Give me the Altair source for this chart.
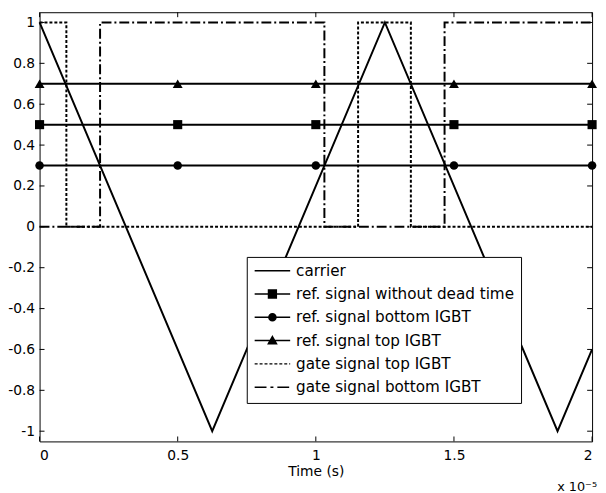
import altair as alt
import pandas as pd

FONT = "DejaVu Sans"

SERIES = [
    "carrier",
    "ref. signal without dead time",
    "ref. signal bottom IGBT",
    "ref. signal top IGBT",
    "gate signal top IGBT",
    "gate signal bottom IGBT",
]

CARRIER_X = [0, 0.625, 1.25, 1.875, 2]
CARRIER_Y = [1, -1, 1, -1, -0.6]

REF_X = [0, 2]
REF_NODEAD = 0.5
REF_BOTTOM = 0.3
REF_TOP = 0.7

MARKER_X = [0, 0.5, 1, 1.5, 2]

GATE_TOP_X = [0, 0.097, 0.097, 1.153, 1.153, 1.344, 1.344, 2]
GATE_TOP_Y = [1, 1, 0, 0, 1, 1, 0, 0]
GATE_BOT_X = [0, 0.219, 0.219, 1.031, 1.031, 1.466, 1.466, 2]
GATE_BOT_Y = [0, 0, 1, 1, 0, 0, 1, 1]

X_TICKS = [0, 0.5, 1, 1.5, 2]
Y_TICKS = [-1, -0.8, -0.6, -0.4, -0.2, 0, 0.2, 0.4, 0.6, 0.8, 1]

DOTTED = [3, 2]
DASHDOT = [10, 3, 2, 3]


# ---- legend symbol paths (unit box [-1,1], 36 px long) ----
def dash_path(pattern_px, length_px=36.0):
    s = 2.0 / length_px
    out, pos, k, on = [], 0.0, 0, True
    while pos < length_px - 1e-9:
        seg = pattern_px[k % len(pattern_px)]
        end = min(pos + seg, length_px)
        if on:
            out.append("M%.3f,0H%.3f" % (-1 + pos * s, -1 + end * s))
        pos, k, on = end, k + 1, not on
    return "".join(out)

LINE = "M-1,0H1"
LEGEND_PATHS = [
    LINE,
    LINE + "M-0.22,-0.22H0.22V0.22H-0.22Z",
    LINE + "M0.2,0A0.2,0.2,0,1,1,-0.2,0A0.2,0.2,0,1,1,0.2,0Z",
    LINE + "M0,-0.23L0.23,0.18H-0.23Z",
    dash_path([3, 2]),
    dash_path([12, 4, 3, 4]),
]

# ---- build tables ----
rows = []
def add(name, xs, ys):
    for i, (a, b) in enumerate(zip(xs, ys)):
        rows.append({"series": name, "x": a, "y": b, "i": i})

add(SERIES[0], CARRIER_X, CARRIER_Y)
add(SERIES[1], REF_X, [REF_NODEAD] * len(REF_X))
add(SERIES[2], REF_X, [REF_BOTTOM] * len(REF_X))
add(SERIES[3], REF_X, [REF_TOP] * len(REF_X))
add(SERIES[4], GATE_TOP_X, GATE_TOP_Y)
add(SERIES[5], GATE_BOT_X, GATE_BOT_Y)
lines_df = pd.DataFrame(rows)

pts = []
for name, lvl in [(SERIES[1], REF_NODEAD), (SERIES[2], REF_BOTTOM), (SERIES[3], REF_TOP)]:
    for a in MARKER_X:
        pts.append({"series": name, "x": a, "y": lvl})
pts_df = pd.DataFrame(pts)

xscale = alt.Scale(domain=[0, 2], nice=False, zero=False)
yscale = alt.Scale(domain=[-1.05, 1.05], nice=False, zero=False)

W, H = 560, 435
TL = 5  # tick length (inward)

axis_style = dict(
    domain=False, grid=False, ticks=False, labelColor="black", labelFont=FONT,
    labelFontSize=14, titleColor="black", titleFont=FONT, titleFontSize=14,
    titleFontWeight="normal",
)
x_main = alt.Axis(orient="bottom", values=X_TICKS, labelExpr="'' + datum.value",
                  labelPadding=7, title="Time (s)", titlePadding=3, **axis_style)
y_main = alt.Axis(orient="left", values=Y_TICKS,
                  labelExpr="'' + round(datum.value*10)/10",
                  labelPadding=5, title=None, **axis_style)

legend_props = dict(
    orient="none", legendX=210, legendY=248, title=None,
    symbolSize=1296, clipHeight=14, rowPadding=7.6,
    labelFont=FONT, labelFontSize=15.4, labelColor="black", labelOffset=5, labelLimit=0,
    padding=7, strokeColor="black", fillColor="white", cornerRadius=0,
    symbolStrokeWidth=1.5, symbolOpacity=1, direction="vertical",
)

solid_lines = alt.Chart(lines_df).transform_filter(
    alt.FieldOneOfPredicate(field="series", oneOf=SERIES[:4])
).mark_line(color="black", strokeWidth=2, strokeCap="butt").encode(
    x=alt.X("x:Q", scale=xscale, axis=x_main),
    y=alt.Y("y:Q", scale=yscale, axis=y_main),
    detail="series:N",
    order="i:Q",
)
gate_top = alt.Chart(lines_df).transform_filter(alt.datum.series == SERIES[4]).mark_line(
    color="black", strokeWidth=2, strokeCap="butt", strokeDash=DOTTED
).encode(x=alt.X("x:Q", scale=xscale), y=alt.Y("y:Q", scale=yscale), order="i:Q")
gate_bot = alt.Chart(lines_df).transform_filter(alt.datum.series == SERIES[5]).mark_line(
    color="black", strokeWidth=2, strokeCap="butt", strokeDash=DASHDOT
).encode(x=alt.X("x:Q", scale=xscale), y=alt.Y("y:Q", scale=yscale), order="i:Q")

legend_layer = alt.Chart(pts_df).mark_point(
    filled=False, color="black", fill="black", strokeWidth=1.5, opacity=1, clip=True
).encode(
    x=alt.X("x:Q", scale=xscale),
    y=alt.Y("y:Q", scale=yscale),
    shape=alt.Shape("series:N", scale=alt.Scale(domain=SERIES, range=LEGEND_PATHS),
                    legend=alt.Legend(**legend_props)),
)

marker_specs = [(SERIES[1], "square", 85), (SERIES[2], "circle", 75), (SERIES[3], "triangle-up", 100)]
marker_layers = [
    alt.Chart(pts_df).transform_filter(alt.datum.series == name)
    .mark_point(shape=shp, filled=True, color="black", opacity=1, size=sz)
    .encode(x=alt.X("x:Q", scale=xscale), y=alt.Y("y:Q", scale=yscale))
    for name, shp, sz in marker_specs
]

# inward tick marks on all four sides, placed by the scales
xt = pd.DataFrame({"v": X_TICKS})
yt = pd.DataFrame({"v": Y_TICKS})
tick_layers = [
    alt.Chart(xt).mark_rule(color="black", strokeWidth=1).encode(
        x=alt.X("v:Q", scale=xscale), y=alt.value(H), y2=alt.value(H - TL)),
    alt.Chart(xt).mark_rule(color="black", strokeWidth=1).encode(
        x=alt.X("v:Q", scale=xscale), y=alt.value(0), y2=alt.value(TL)),
    alt.Chart(yt).mark_rule(color="black", strokeWidth=1).encode(
        y=alt.Y("v:Q", scale=yscale), x=alt.value(0), x2=alt.value(TL)),
    alt.Chart(yt).mark_rule(color="black", strokeWidth=1).encode(
        y=alt.Y("v:Q", scale=yscale), x=alt.value(W), x2=alt.value(W - TL)),
]

chart = alt.layer(solid_lines, gate_top, gate_bot, *tick_layers, legend_layer, *marker_layers).properties(
    width=W, height=H,
    autosize=alt.AutoSizeParams(type="none"),
    padding={"left": 32, "top": 1, "right": 6, "bottom": 50},
    title=alt.TitleParams(text="x 10⁻⁵", orient="bottom", anchor="end", fontSize=13,
                          fontWeight="normal", font=FONT, color="black", offset=2),
).configure(background="white").configure_view(stroke="black", strokeWidth=1)

chart.save("out.html", embed_options={"renderer": "svg", "actions": False})
